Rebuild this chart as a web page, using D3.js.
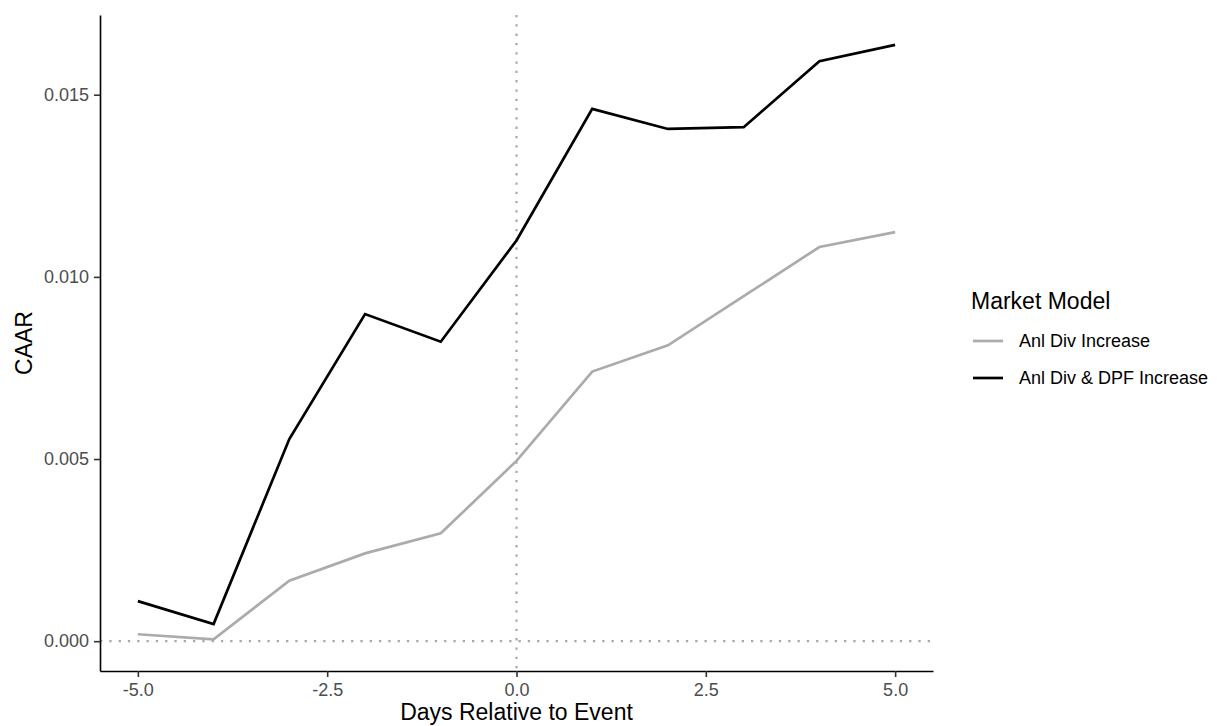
<!DOCTYPE html>
<html>
<head>
<meta charset="utf-8">
<script src="https://cdn.jsdelivr.net/npm/d3@7"></script>
<style>
  html, body { margin: 0; padding: 0; background: #fff; }
  svg { display: block; font-family: "Liberation Sans", Arial, Helvetica, sans-serif; }
</style>
</head>
<body>
<svg id="chart" width="1219" height="726"></svg>
<script>
// Event window (days relative to the announcement)
const days = [-5, -4, -3, -2, -1, 0, 1, 2, 3, 4, 5];

// Cumulative average abnormal returns, market model
const anlDivIncrease = [0.00019, 0.00005, 0.00166, 0.00241, 0.00296, 0.00495, 0.00740, 0.00812, 0.00947, 0.01082, 0.01123];
const anlDivDpfIncrease = [0.00110, 0.00047, 0.00555, 0.00898, 0.00822, 0.01100, 0.01461, 0.01406, 0.01411, 0.01592, 0.01637];

const seriesNames = ["Anl Div Increase", "Anl Div & DPF Increase"];
const seriesColors = ["#ababab", "#000000"];

const xTickValues = [-5, -2.5, 0, 2.5, 5];
const xTickLabels = ["-5.0", "-2.5", "0.0", "2.5", "5.0"];
const yTickValues = [0, 0.005, 0.01, 0.015];
const yTickLabels = ["0.000", "0.005", "0.010", "0.015"];

const legendTitle = "Market Model";
const xTitle = "Days Relative to Event";
const yTitle = "CAAR";

const series = [anlDivIncrease, anlDivDpfIncrease].map((vals, i) => ({
  name: seriesNames[i],
  color: seriesColors[i],
  values: days.map((d, j) => ({ day: d, v: vals[j] }))
}));

const svg = d3.select("#chart");
const panel = { left: 100, right: 933, top: 15, bottom: 671 };

// Expanded domains (5% padding on each side, reference line at zero included)
const allVals = anlDivIncrease.concat(anlDivDpfIncrease, [0]);
const yMin = d3.min(allVals), yMax = d3.max(allVals);
const yPad = (yMax - yMin) * 0.05;
const xPad = (d3.max(days) - d3.min(days)) * 0.05;

const x = d3.scaleLinear()
  .domain([d3.min(days) - xPad, d3.max(days) + xPad])
  .range([panel.left, panel.right]);
const y = d3.scaleLinear()
  .domain([yMin - yPad, yMax + yPad])
  .range([panel.bottom, panel.top]);

// Dotted reference lines at day 0 and CAAR 0
const refG = svg.append("g")
  .attr("stroke", "#a8a8a8")
  .attr("stroke-width", 2.2)
  .attr("stroke-dasharray", "2.3,7");
refG.append("line")
  .attr("x1", x(0)).attr("x2", x(0))
  .attr("y1", panel.top).attr("y2", panel.bottom);
refG.append("line")
  .attr("x1", panel.left).attr("x2", panel.right)
  .attr("y1", y(0)).attr("y2", y(0));

// Series lines
const line = d3.line().x(d => x(d.day)).y(d => y(d.v));
svg.append("g").selectAll("path")
  .data(series)
  .join("path")
  .attr("fill", "none")
  .attr("stroke", d => d.color)
  .attr("stroke-width", 2.7)
  .attr("stroke-linejoin", "miter")
  .attr("d", d => line(d.values));

// Axes
const xAxis = d3.axisBottom(x)
  .tickValues(xTickValues)
  .tickFormat((d, i) => xTickLabels[i])
  .tickSize(6)
  .tickSizeOuter(0)
  .tickPadding(5);
const yAxis = d3.axisLeft(y)
  .tickValues(yTickValues)
  .tickFormat((d, i) => yTickLabels[i])
  .tickSize(6)
  .tickSizeOuter(0)
  .tickPadding(5);

const gx = svg.append("g")
  .attr("transform", `translate(0,${panel.bottom})`)
  .call(xAxis);
const gy = svg.append("g")
  .attr("transform", `translate(${panel.left},0)`)
  .call(yAxis);

[gx, gy].forEach(g => {
  g.select(".domain").attr("stroke", "#000").attr("stroke-width", 1.6);
  g.selectAll(".tick line").attr("stroke", "#333").attr("stroke-width", 1.6);
  g.selectAll(".tick text")
    .attr("fill", "#4d4d4d")
    .attr("font-size", 18)
    .attr("font-family", "Liberation Sans, Arial, sans-serif");
});
gx.selectAll(".tick text").attr("dy", "0.76em");

// Axis titles
svg.append("text")
  .attr("x", (panel.left + panel.right) / 2)
  .attr("y", 720)
  .attr("text-anchor", "middle")
  .attr("font-size", 23)
  .attr("fill", "#000")
  .text(xTitle);

svg.append("text")
  .attr("transform", `translate(32,${(panel.top + panel.bottom) / 2}) rotate(-90)`)
  .attr("text-anchor", "middle")
  .attr("font-size", 23)
  .attr("fill", "#000")
  .text(yTitle);

// Legend
const legend = svg.append("g").attr("transform", "translate(971,0)");
legend.append("text")
  .attr("x", 0).attr("y", 309)
  .attr("font-size", 23)
  .attr("fill", "#000")
  .text(legendTitle);

const keyY = d3.scalePoint().domain(seriesNames).range([341, 378]);
const items = legend.selectAll("g.item")
  .data(series)
  .join("g")
  .attr("class", "item")
  .attr("transform", d => `translate(0,${keyY(d.name)})`);
items.append("line")
  .attr("x1", 2).attr("x2", 32)
  .attr("y1", 0).attr("y2", 0)
  .attr("stroke", d => d.color)
  .attr("stroke-width", 2.7);
items.append("text")
  .attr("x", 48).attr("y", 0)
  .attr("dy", "0.35em")
  .attr("font-size", 18)
  .attr("fill", "#000")
  .text(d => d.name);
</script>
</body>
</html>
